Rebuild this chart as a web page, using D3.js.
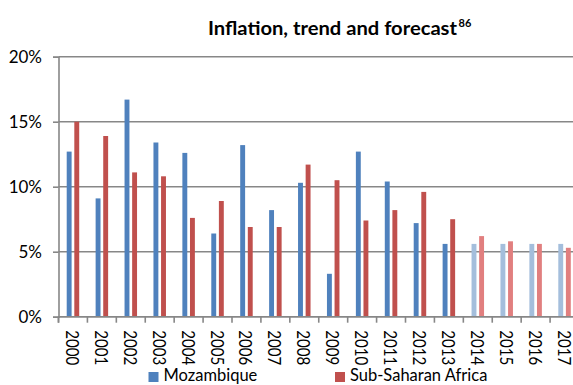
<!DOCTYPE html>
<html>
<head>
<meta charset="utf-8">
<script src="https://cdn.jsdelivr.net/npm/d3@7"></script>
<style>
  html, body { margin: 0; padding: 0; background: #fff; }
  svg { display: block; }
  text { font-family: Lato, "Open Sans", sans-serif; fill: #000; }
</style>
</head>
<body>
<svg id="chart" width="573" height="385"></svg>
<script>
// Inflation (%) by year; 2014-2017 are forecasts
const years = ["2000","2001","2002","2003","2004","2005","2006","2007","2008",
               "2009","2010","2011","2012","2013","2014","2015","2016","2017"];
const mozambique = [12.7, 9.1, 16.7, 13.4, 12.6, 6.4, 13.2, 8.2, 10.3,
                    3.3, 12.7, 10.4, 7.2, 5.6, 5.6, 5.6, 5.6, 5.6];
const subSaharan = [15.0, 13.9, 11.1, 10.8, 7.6, 8.9, 6.9, 6.9, 11.7,
                    10.5, 7.4, 8.2, 9.6, 7.5, 6.2, 5.8, 5.6, 5.3];
const forecastYears = ["2014","2015","2016","2017"];
const yTicks = [0, 5, 10, 15, 20];
const seriesNames = ["Mozambique", "Sub-Saharan Africa"];

const colors = {
  "Mozambique": { actual: "#4F81BD", forecast: "#A4BEDC" },
  "Sub-Saharan Africa": { actual: "#C0504D", forecast: "#E17F7F" }
};

const svg = d3.select("#chart");
const plot = { left: 58.5, right: 579, top: 56.7, bottom: 316.7 };

const x = d3.scaleBand().domain(years).range([plot.left, plot.right]);
const y = d3.scaleLinear().domain([0, 20]).range([plot.bottom, plot.top]);

const barW = 4.9, barGap = 2.7;
const xs = d3.scaleOrdinal().domain(seriesNames)
  .range([-(barGap / 2 + barW), barGap / 2]);

// gridlines
svg.append("g")
  .selectAll("line")
  .data(yTicks)
  .join("line")
  .attr("x1", plot.left).attr("x2", plot.right)
  .attr("y1", d => y(d)).attr("y2", d => y(d))
  .attr("stroke", "#878787").attr("stroke-width", 1.6);

// bars
const rows = [];
years.forEach((yr, i) => {
  rows.push({ year: yr, series: "Mozambique", value: mozambique[i] });
  rows.push({ year: yr, series: "Sub-Saharan Africa", value: subSaharan[i] });
});
svg.append("g")
  .selectAll("rect")
  .data(rows)
  .join("rect")
  .attr("x", d => x(d.year) + x.bandwidth() / 2 + xs(d.series))
  .attr("width", barW)
  .attr("y", d => y(d.value))
  .attr("height", d => y(0) - y(d.value))
  .attr("fill", d => forecastYears.includes(d.year)
    ? colors[d.series].forecast : colors[d.series].actual);

// y axis
const yAxis = svg.append("g")
  .attr("transform", `translate(${plot.left},0)`)
  .call(d3.axisLeft(y).tickValues(yTicks).tickFormat(d => d + "%")
        .tickSize(5.5).tickPadding(11));
yAxis.select(".domain").attr("stroke", "#878787").attr("stroke-width", 1.6);
yAxis.selectAll(".tick line").attr("stroke", "#878787").attr("stroke-width", 1.6);
yAxis.selectAll(".tick text").attr("font-size", 17).attr("font-family", "Lato, sans-serif")
  .attr("fill", "#000");

// x axis: ticks at category boundaries, labels rotated
const xAxis = svg.append("g").attr("transform", `translate(0,${plot.bottom})`);
xAxis.append("line")
  .attr("x1", plot.left).attr("x2", plot.right)
  .attr("stroke", "#878787").attr("stroke-width", 1.6);
xAxis.selectAll("line.tick")
  .data(years)
  .join("line")
  .attr("class", "tick")
  .attr("x1", d => x(d)).attr("x2", d => x(d))
  .attr("y1", 0).attr("y2", 6)
  .attr("stroke", "#878787").attr("stroke-width", 1.6);
xAxis.append("line")
  .attr("x1", plot.left).attr("x2", plot.left)
  .attr("y1", 0).attr("y2", 6)
  .attr("stroke", "#878787").attr("stroke-width", 1.6);
xAxis.selectAll("text")
  .data(years)
  .join("text")
  .attr("transform", d => `translate(${x(d) + x.bandwidth() / 2 - 7},13.5) rotate(90)`)
  .attr("font-size", 17)
  .attr("textLength", 35).attr("lengthAdjust", "spacingAndGlyphs")
  .text(d => d);

// title
const title = svg.append("text")
  .attr("y", 34.5)
  .attr("font-size", 19).attr("font-weight", "bold");
title.append("tspan").attr("x", 208)
  .attr("textLength", 249).attr("lengthAdjust", "spacingAndGlyphs")
  .text("Inflation, trend and forecast");
title.append("tspan").attr("font-size", 11).attr("x", 458.5).attr("dy", -8).text("86");

// legend
const legend = svg.append("g").selectAll("g")
  .data([{ name: "Mozambique", x: 148.5 }, { name: "Sub-Saharan Africa", x: 335 }])
  .join("g")
  .attr("transform", d => `translate(${d.x},372)`);
legend.append("rect").attr("width", 10).attr("height", 10)
  .attr("fill", d => colors[d.name].actual);
legend.append("text").attr("x", 15).attr("y", 9.2).attr("font-size", 16.5)
  .text(d => d.name);
</script>
</body>
</html>
